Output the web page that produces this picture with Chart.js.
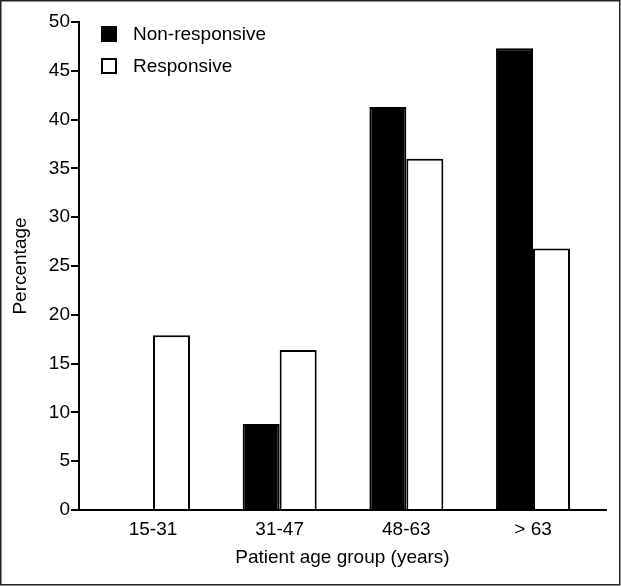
<!DOCTYPE html>
<html>
<head>
<meta charset="utf-8">
<script src="https://cdn.jsdelivr.net/npm/chart.js@4/dist/chart.umd.min.js"></script>
<style>
  html, body { margin: 0; padding: 0; background: #fff; }
  #wrap { width: 621px; height: 586px; }
</style>
</head>
<body>
<div id="wrap"><canvas id="chart" width="621" height="586"></canvas></div>
<script>
// data
const ageGroups = ['15-31', '31-47', '48-63', '> 63'];
const nonResponsive = [0, 8.8, 41.3, 47.3];
const responsive = [17.9, 16.4, 36.0, 26.8];
const yMin = 0, yMax = 50, yStep = 5;

const FONT = '"Liberation Sans", Arial, Helvetica, sans-serif';
const FONT_SIZE = 19;
Chart.defaults.font.family = FONT;
Chart.defaults.font.size = FONT_SIZE;
Chart.defaults.color = '#000';

// legend drawn inside the plot area, top left, plus the outer frame
const insideLegend = {
    id: 'insideLegend',
    afterDraw(chart) {
        const { ctx, chartArea } = chart;
        ctx.save();
        chart.data.datasets.forEach((ds, i) => {
            const x = chartArea.left + 22;
            const y = chartArea.top + 4 + i * 32;
            ctx.fillStyle = ds.backgroundColor;
            ctx.fillRect(x, y, 16, 16);
            ctx.lineWidth = 2;
            ctx.strokeStyle = '#000';
            ctx.strokeRect(x + 1, y + 1, 14, 14);
            ctx.fillStyle = '#000';
            ctx.font = FONT_SIZE + 'px ' + FONT;
            ctx.textBaseline = 'middle';
            ctx.fillText(ds.label, x + 32, y + 9);
        });
        ctx.lineWidth = 1.5;
        ctx.strokeStyle = '#222';
        ctx.strokeRect(0.75, 0.75, 619, 584);
        ctx.restore();
    }
};

new Chart(document.getElementById('chart'), {
    type: 'bar',
    data: {
        labels: ageGroups,
        datasets: [
            {
                label: 'Non-responsive',
                data: nonResponsive,
                backgroundColor: '#000',
                borderColor: '#000',
                borderWidth: 2,
            },
            {
                label: 'Responsive',
                data: responsive,
                backgroundColor: '#fff',
                borderColor: '#000',
                borderWidth: 2,
            }
        ]
    },
    options: {
        responsive: false,
        animation: false,
        categoryPercentage: 0.584,
        barPercentage: 1,
        layout: { padding: { left: 0, right: 15, top: 22, bottom: 0 } },
        plugins: {
            legend: { display: false },
            tooltip: { enabled: false }
        },
        scales: {
            x: {
                offset: true,
                // widen the category range a bit so the groups sit like in the figure
                afterBuildTicks: s => { s._startValue = -0.584; s._valueRange = 4.16; },
                afterFit: s => { s.height = 76; },
                grid: { drawOnChartArea: false, drawTicks: false },
                border: { color: '#000', width: 2 },
                ticks: { padding: 8 },
                title: {
                    display: true,
                    text: 'Patient age group (years)',
                    padding: { top: 0, bottom: 17 }
                }
            },
            y: {
                min: yMin,
                max: yMax,
                afterFit: s => { s.width = 79; },
                grid: {
                    drawOnChartArea: false,
                    color: '#000',
                    tickColor: '#000',
                    tickWidth: 2,
                    lineWidth: 2,
                    tickLength: 8
                },
                border: { color: '#000', width: 2 },
                ticks: { stepSize: yStep, padding: 1 },
                title: {
                    display: true,
                    text: 'Percentage',
                    padding: { top: 9, bottom: 0 }
                }
            }
        }
    },
    plugins: [insideLegend]
});
</script>
</body>
</html>
